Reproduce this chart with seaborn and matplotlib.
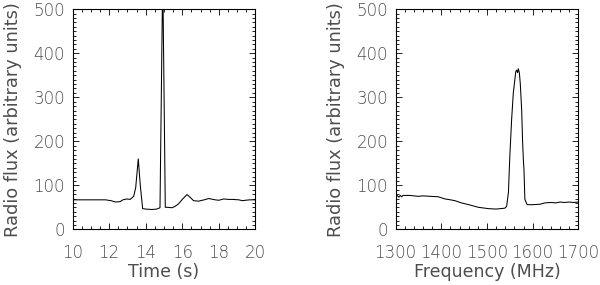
import matplotlib
matplotlib.use("Agg")
import matplotlib.pyplot as plt
from matplotlib.ticker import MultipleLocator
import seaborn as sns
import pandas as pd

# ---- data: left panel (time profile) ----
time_s = [10.0, 11.0, 11.8, 12.1, 12.35, 12.6, 12.75, 12.97, 13.15, 13.34, 13.45,
          13.59, 13.7, 13.83, 14.0, 14.34, 14.6, 14.78, 14.91, 14.95, 15.07,
          15.2, 15.44, 15.6, 15.8, 16.0, 16.26, 16.45, 16.62, 16.9, 17.2,
          17.45, 17.8, 18.0, 18.27, 18.5, 18.73, 19.1, 19.3, 19.46, 19.7, 20.0]
flux_t = [67, 67, 67, 65, 62, 63, 67, 69, 68, 75, 95,
          160, 100, 47, 46, 45, 46, 49, 510, 505, 50,
          50, 49, 52, 58, 68, 79, 72, 65, 64, 67,
          70, 67, 66, 69, 68, 68, 67, 65, 66, 67, 67]

# ---- data: right panel (spectrum) ----
freq_mhz = [1300, 1304, 1307, 1310, 1313, 1316, 1320, 1330, 1340, 1349, 1360,
            1375, 1393, 1408, 1420, 1430, 1444, 1460, 1481, 1503, 1520,
            1539, 1543, 1547, 1550, 1554, 1557.6, 1561, 1563, 1565, 1567,
            1568.7, 1571, 1573, 1576, 1578, 1579.7, 1581, 1583, 1588, 1600,
            1616, 1627, 1640, 1650, 1660, 1670, 1680, 1690, 1700]
flux_f = [79, 76, 73, 77, 74, 77, 77, 77, 76, 75, 76,
          75, 74, 69, 67, 65, 60, 56, 50, 47, 46,
          48, 52, 84, 166, 250, 309, 340, 358, 362, 356,
          365, 355, 330, 271, 200, 158, 136, 68, 56, 56,
          57, 60, 61, 60, 62, 61, 62, 61, 62]

df_t = pd.DataFrame({"t": time_s, "f": flux_t})
df_f = pd.DataFrame({"nu": freq_mhz, "f": flux_f})

sns.set_style("ticks")
plt.rcParams["font.family"] = ["DejaVu Sans"]
plt.rcParams["font.weight"] = "light"
txt = "#4d4d4d"

fig = plt.figure(figsize=(6.0, 2.85), dpi=100)
axL = fig.add_axes([0.1212, 0.1954, 0.3043, 0.772])
axR = fig.add_axes([0.6595, 0.1954, 0.3043, 0.772])

sns.lineplot(data=df_t, x="t", y="f", ax=axL, color="black", lw=0.75, estimator=None, sort=False)
sns.lineplot(data=df_f, x="nu", y="f", ax=axR, color="black", lw=0.75, estimator=None, sort=False)

axL.set_xlim(10, 20)
axL.xaxis.set_major_locator(MultipleLocator(2))
axL.xaxis.set_minor_locator(MultipleLocator(0.5))
axL.set_xlabel("Time (s)", color=txt, fontsize=12.5, labelpad=1)

axR.set_xlim(1300, 1700)
axR.xaxis.set_major_locator(MultipleLocator(100))
axR.xaxis.set_minor_locator(MultipleLocator(20))
axR.set_xlabel("Frequency (MHz)", color=txt, fontsize=12.5, labelpad=1)

for ax in (axL, axR):
    ax.set_ylim(0, 500)
    ax.yaxis.set_major_locator(MultipleLocator(100))
    ax.yaxis.set_minor_locator(MultipleLocator(10))
    ax.set_ylabel("Radio flux (arbitrary units)", color=txt, fontsize=12.8, labelpad=8)
    ax.tick_params(which="both", direction="in", top=True, right=True,
                   colors="black", labelcolor=txt, labelsize=12, width=0.6)
    ax.tick_params(axis="x", which="major", length=4, pad=10.5)
    ax.tick_params(axis="y", which="major", length=4, pad=5.5)
    ax.tick_params(which="minor", length=2)
    for s in ax.spines.values():
        s.set_visible(True)
        s.set_linewidth(0.8)
        s.set_color("black")

fig.savefig("out.png", dpi=100)
